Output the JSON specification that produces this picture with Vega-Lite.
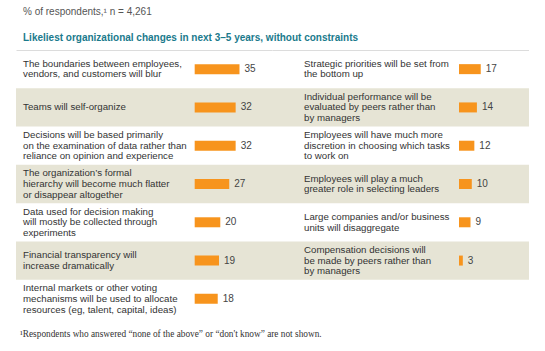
{
  "$schema": "https://vega.github.io/schema/vega-lite/v6.json",
  "background": "white",
  "padding": {"left": 16, "top": 7, "right": 0, "bottom": 0},
  "bounds": "flush",
  "spacing": 0,
  "config": {
    "font": "Liberation Sans",
    "view": {"stroke": null}
  },
  "title": {
    "text": "% of respondents,¹ n = 4,261",
    "subtitle": "Likeliest organizational changes in next 3–5 years, without constraints",
    "anchor": "start",
    "dx": 7,
    "font": "Liberation Sans",
    "fontSize": 10,
    "fontWeight": "normal",
    "color": "#555555",
    "subtitleFont": "Liberation Sans",
    "subtitleFontSize": 10,
    "subtitleFontWeight": "bold",
    "subtitleColor": "#1a7a8c",
    "subtitlePadding": 16,
    "offset": 7
  },
  "hconcat": [
    {
      "width": 256,
      "height": 268,
      "data": {"values": [
        {"row": 0, "label": "The boundaries between employees,|vendors, and customers will blur", "value": 35},
        {"row": 1, "label": "Teams will self-organize", "value": 32},
        {"row": 2, "label": "Decisions will be based primarily|on the examination of data rather than|reliance on opinion and experience", "value": 32},
        {"row": 3, "label": "The organization’s formal|hierarchy will become much flatter|or disappear altogether", "value": 27},
        {"row": 4, "label": "Data used for decision making|will mostly be collected through|experiments", "value": 20},
        {"row": 5, "label": "Financial transparency will|increase dramatically", "value": 19},
        {"row": 6, "label": "Internal markets or other voting|mechanisms will be used to allocate|resources (eg, talent, capital, ideas)", "value": 18}
      ]},
      "title": {
        "text": "¹Respondents who answered “none of the above” or “don't know” are not shown.",
        "orient": "bottom",
        "anchor": "start",
        "dx": 4,
        "offset": 12,
        "font": "Liberation Serif",
        "fontSize": 9.3,
        "fontWeight": "normal",
        "color": "#333333",
        "limit": 0
      },
      "encoding": {
        "y": {"field": "row", "type": "ordinal", "scale": {"domain": [0, 1, 2, 3, 4, 5, 6], "paddingInner": 0, "paddingOuter": 0}, "axis": null}
      },
      "layer": [
        {
          "transform": [{"filter": "datum.row % 2 == 1"}],
          "mark": {"type": "rect", "color": "#e6e4d5"},
          "encoding": {}
        },
        {
          "mark": {"type": "bar", "color": "#f7941d", "height": 10},
          "encoding": {
            "x": {"field": "value", "type": "quantitative", "scale": {"domain": [-139.6, 60.4], "nice": false, "zero": false},
                  "axis": {"orient": "top", "domain": true, "domainColor": "#dcdcdc", "domainWidth": 1, "ticks": false, "labels": false, "grid": false, "title": null}},
            "x2": {"datum": 0}
          }
        },
        {
          "mark": {"type": "text", "align": "left", "baseline": "middle", "dx": 5, "fontSize": 10, "color": "#444444"},
          "encoding": {
            "x": {"field": "value", "type": "quantitative"},
            "text": {"field": "value", "type": "quantitative"}
          }
        },
        {
          "transform": [{"filter": "length(split(datum.label, '|')) == 1"}],
          "mark": {"type": "text", "align": "left", "baseline": "middle", "lineBreak": "|", "lineHeight": 10.7, "fontSize": 9.7, "color": "#333333"},
          "encoding": {"x": {"datum": -134.1}, "text": {"field": "label", "type": "nominal"}}
        },
        {
          "transform": [{"filter": "length(split(datum.label, '|')) == 2"}],
          "mark": {"type": "text", "align": "left", "baseline": "middle", "dy": -5.35, "lineBreak": "|", "lineHeight": 10.7, "fontSize": 9.7, "color": "#333333"},
          "encoding": {"x": {"datum": -134.1}, "text": {"field": "label", "type": "nominal"}}
        },
        {
          "transform": [{"filter": "length(split(datum.label, '|')) == 3"}],
          "mark": {"type": "text", "align": "left", "baseline": "middle", "dy": -10.7, "lineBreak": "|", "lineHeight": 10.7, "fontSize": 9.7, "color": "#333333"},
          "encoding": {"x": {"datum": -134.1}, "text": {"field": "label", "type": "nominal"}}
        }
      ]
    },
    {
      "width": 257,
      "height": 268,
      "data": {"values": [
        {"row": 0, "label": "Strategic priorities will be set from|the bottom up", "value": 17},
        {"row": 1, "label": "Individual performance will be|evaluated by peers rather than|by managers", "value": 14},
        {"row": 2, "label": "Employees will have much more|discretion in choosing which tasks|to work on", "value": 12},
        {"row": 3, "label": "Employees will play a much|greater role in selecting leaders", "value": 10},
        {"row": 4, "label": "Large companies and/or business|units will disaggregate", "value": 9},
        {"row": 5, "label": "Compensation decisions will|be made by peers rather than|by managers", "value": 3}
      ]},
      "encoding": {
        "y": {"field": "row", "type": "ordinal", "scale": {"domain": [0, 1, 2, 3, 4, 5, 6], "paddingInner": 0, "paddingOuter": 0}, "axis": null}
      },
      "layer": [
        {
          "transform": [{"filter": "datum.row % 2 == 1"}],
          "mark": {"type": "rect", "color": "#e6e4d5"},
          "encoding": {}
        },
        {
          "mark": {"type": "bar", "color": "#f7941d", "height": 10},
          "encoding": {
            "x": {"field": "value", "type": "quantitative", "scale": {"domain": [-146.1, 54.7], "nice": false, "zero": false},
                  "axis": {"orient": "top", "domain": true, "domainColor": "#dcdcdc", "domainWidth": 1, "ticks": false, "labels": false, "grid": false, "title": null}},
            "x2": {"datum": 0}
          }
        },
        {
          "mark": {"type": "text", "align": "left", "baseline": "middle", "dx": 5, "fontSize": 10, "color": "#444444"},
          "encoding": {
            "x": {"field": "value", "type": "quantitative"},
            "text": {"field": "value", "type": "quantitative"}
          }
        },
        {
          "transform": [{"filter": "length(split(datum.label, '|')) == 1"}],
          "mark": {"type": "text", "align": "left", "baseline": "middle", "lineBreak": "|", "lineHeight": 10.7, "fontSize": 9.7, "color": "#333333"},
          "encoding": {"x": {"datum": -121.1}, "text": {"field": "label", "type": "nominal"}}
        },
        {
          "transform": [{"filter": "length(split(datum.label, '|')) == 2"}],
          "mark": {"type": "text", "align": "left", "baseline": "middle", "dy": -5.35, "lineBreak": "|", "lineHeight": 10.7, "fontSize": 9.7, "color": "#333333"},
          "encoding": {"x": {"datum": -121.1}, "text": {"field": "label", "type": "nominal"}}
        },
        {
          "transform": [{"filter": "length(split(datum.label, '|')) == 3"}],
          "mark": {"type": "text", "align": "left", "baseline": "middle", "dy": -10.7, "lineBreak": "|", "lineHeight": 10.7, "fontSize": 9.7, "color": "#333333"},
          "encoding": {"x": {"datum": -121.1}, "text": {"field": "label", "type": "nominal"}}
        }
      ]
    }
  ]
}
